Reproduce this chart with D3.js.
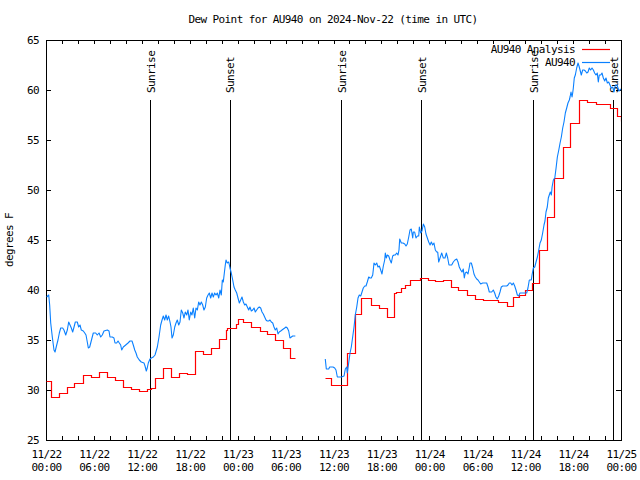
<!DOCTYPE html>
<html><head><meta charset="utf-8">
<script src="https://cdn.jsdelivr.net/npm/d3@7"></script>
<style>
body{margin:0;background:#fff}
text{font-family:"DejaVu Sans Mono",monospace;font-size:11px;letter-spacing:-0.6px;fill:#000}
</style>
</head><body>
<svg id="c" width="640" height="480"></svg>
<script>
const chartTitle = "Dew Point for AU940 on 2024-Nov-22 (time in UTC)";
const yAxisLabel = "degrees F";
const seriesNames = ["AU940 Analysis", "AU940"];
const startTime = "2024-11-22T00:00:00Z";
const endTime = "2024-11-25T00:00:00Z";
const yTicks = [25, 30, 35, 40, 45, 50, 55, 60, 65];

// sun events (hours after start)
const sunHours = [13.08, 22.98, 36.95, 46.98, 61.02, 71.03];
const sunLabels = ["Sunrise", "Sunset", "Sunrise", "Sunset", "Sunrise", "Sunset"];

// AU940 Analysis (red, step), hours after start
const redHours1 = [0, 0.67, 1.67, 2.67, 3.5, 4.67, 5.67, 6.67, 7.67, 8.67, 9.67, 10.67, 11.67, 12.67, 13.1, 13.67, 14.67, 15.67, 16.67, 17.67, 18.67, 19.67, 20.67, 21.67, 22.5, 22.7, 23.75, 24.08, 24.63, 25.67, 26.8, 27.64, 28.71, 29.71, 30.55, 31.2];
const redValues1 = [30.9, 29.3, 29.7, 30.3, 30.7, 31.5, 31.3, 31.8, 31.3, 31.0, 30.3, 30.1, 29.9, 30.1, 30.2, 31.2, 32.2, 31.3, 31.7, 31.6, 33.9, 33.6, 34.2, 35.1, 36.0, 36.2, 36.6, 37.1, 36.8, 36.3, 35.9, 35.6, 35.0, 34.2, 33.2, 33.2];
const redHours2 = [34.97, 35.72, 37.73, 38.66, 39.48, 40.73, 41.7, 42.7, 43.54, 43.86, 44.45, 44.95, 45.58, 46.83, 47.87, 48.71, 49.75, 50.68, 51.63, 52.75, 53.72, 54.76, 56.64, 57.7, 58.52, 59.23, 59.98, 60.82, 61.73, 62.7, 63.65, 64.7, 65.62, 66.78, 67.71, 68.87, 70.62, 71.54, 71.96, 72];
const redValues2 = [31.2, 30.5, 33.7, 37.6, 39.2, 38.5, 38.2, 37.3, 39.7, 39.8, 40.2, 40.5, 41.0, 41.2, 41.0, 40.9, 41.0, 40.3, 40.0, 39.5, 39.1, 39.0, 38.8, 38.4, 39.3, 39.5, 40.0, 40.7, 44.0, 47.3, 51.2, 54.3, 56.7, 59.0, 58.8, 58.6, 58.2, 57.4, 56.9, 56.9];

// AU940 observations (blue)
const blueHours1 = [0.09,0.34,0.46,0.59,0.79,1.0,1.13,1.34,1.5,1.67,1.84,2.09,2.25,2.47,2.67,2.84,3.01,3.17,3.34,3.51,3.67,3.92,4.09,4.26,4.42,4.67,4.85,5.01,5.17,5.3,5.47,5.6,5.76,5.92,6.22,6.42,6.64,6.85,7.05,7.26,7.68,7.89,8.01,8.3,8.51,8.64,8.85,9.02,9.18,9.35,9.48,9.68,9.98,10.27,10.52,10.77,10.93,11.11,11.27,11.43,11.68,11.93,12.27,12.4,12.56,12.68,12.81,13.02,13.19,13.44,13.65,13.94,14.15,14.36,14.53,14.69,14.86,15.03,15.19,15.36,15.53,15.65,15.78,15.94,16.12,16.28,16.44,16.62,16.78,16.94,17.12,17.28,17.44,17.62,17.78,17.94,18.12,18.28,18.44,18.62,18.78,18.95,19.12,19.28,19.45,19.62,19.78,19.95,20.12,20.29,20.45,20.62,20.79,20.95,21.12,21.29,21.45,21.63,21.79,21.95,22.08,22.2,22.33,22.45,22.54,22.7,22.88,23.04,23.2,23.38,23.54,23.7,23.88,24.04,24.21,24.38,24.54,24.71,24.88,25.04,25.21,25.38,25.54,25.71,25.88,26.05,26.21,26.38,26.55,26.71,26.88,27.05,27.21,27.38,27.55,27.71,27.88,28.05,28.21,28.39,28.55,28.71,28.89,29.05,29.21,29.39,29.55,29.72,29.89,30.05,30.22,30.39,30.55,30.72,30.89,31.05,31.22];
const blueValues1 = [39.3,39.5,38.5,36.7,35.3,34.0,33.8,34.5,35.0,35.7,36.2,36.2,36.0,35.5,36.0,36.8,36.5,36.2,35.8,36.3,36.8,36.8,36.3,36.5,36.0,35.9,35.7,35.5,34.8,34.2,34.3,34.7,35.2,35.7,35.7,35.5,35.7,35.3,35.5,35.9,36.0,35.9,35.3,35.3,35.2,34.7,34.7,34.9,34.7,34.5,34.0,34.3,34.5,34.7,34.9,34.9,34.5,34.0,33.7,33.3,33.0,32.8,32.7,32.4,31.9,32.2,32.7,33.1,33.2,33.3,33.5,34.3,35.3,36.5,37.0,37.4,37.0,37.5,37.0,37.4,36.8,36.3,35.2,35.5,36.3,36.7,37.0,36.5,36.8,38.0,37.7,37.2,37.8,37.5,38.0,37.0,37.8,37.5,38.2,37.2,38.2,38.0,38.8,38.5,38.8,38.5,38.0,38.3,39.2,39.5,39.7,39.2,39.7,39.3,39.7,39.5,39.7,39.2,40.0,39.5,41.0,40.8,41.7,42.5,43.0,42.7,42.8,42.2,41.7,41.0,40.3,40.0,39.7,39.2,38.7,39.0,39.3,38.8,38.5,38.6,38.3,38.0,38.3,37.9,38.0,38.2,37.8,38.0,38.2,38.3,38.2,37.8,37.6,37.3,37.0,36.9,36.9,37.0,36.8,36.7,36.3,36.0,36.2,35.6,35.8,35.9,36.0,36.1,36.2,36.3,36.2,35.9,35.2,35.3,35.4,35.4,35.4];
const blueHours2 = [34.97,35.1,35.4,35.52,35.94,36.15,36.31,36.48,36.78,36.98,37.32,37.48,37.65,37.73,37.9,38.07,38.23,38.4,38.57,38.73,38.91,39.07,39.23,39.41,39.57,39.73,39.91,40.07,40.23,40.41,40.57,40.73,40.91,40.98,41.07,41.23,41.41,41.57,41.74,41.91,42.07,42.24,42.41,42.49,42.61,42.74,42.91,43.08,43.24,43.41,43.58,43.74,43.91,44.08,44.2,44.29,44.49,44.7,44.92,45.08,45.24,45.42,45.58,45.74,45.92,45.99,46.16,46.33,46.5,46.67,46.75,46.92,47.08,47.25,47.42,47.58,47.75,47.92,48.09,48.25,48.42,48.58,48.75,48.92,49.05,49.17,49.34,49.55,49.75,49.96,50.13,50.3,50.46,50.8,51.0,51.21,51.43,51.59,51.75,51.93,52.09,52.25,52.38,52.5,52.68,52.84,53.01,53.09,53.26,53.43,53.59,53.76,53.93,54.09,54.26,54.43,54.68,54.93,55.18,55.35,55.51,55.81,56.01,56.18,56.34,56.51,56.69,56.85,57.01,57.19,57.44,57.69,57.85,58.01,58.19,58.35,58.52,58.69,58.85,59.02,59.19,59.35,59.77,60.19,60.35,60.52,60.77,60.86,61.02,61.2,61.36,61.53,61.7,61.86,62.02,62.19,62.36,62.48,62.61,62.77,62.9,63.02,63.15,63.28,63.37,63.53,63.71,63.87,64.03,64.21,64.37,64.53,64.7,64.86,65.03,65.2,65.36,65.53,65.62,65.74,65.87,65.95,66.03,66.15,66.28,66.45,66.62,66.74,66.87,67.03,67.2,67.37,67.54,67.71,67.87,68.03,68.2,68.37,68.54,68.7,68.87,69.03,69.16,69.28,69.46,69.62,69.79,69.96,70.12,70.29,70.46,70.62,70.78,70.96,71.12,71.29,71.5,71.75,72.0];
const blueValues2 = [33.1,32.1,32.1,32.3,32.3,32.2,32.0,31.3,31.3,31.3,31.4,32.1,32.3,31.7,32.7,33.7,34.3,35.3,36.3,37.5,38.3,39.2,39.5,39.4,39.8,40.2,40.4,40.4,40.8,41.3,41.2,41.2,41.5,42.0,42.7,42.5,42.7,42.3,42.4,42.0,41.6,42.4,43.0,43.7,43.2,43.5,43.4,43.0,42.7,43.4,43.5,43.5,43.7,43.5,44.0,45.1,44.7,44.7,44.6,44.4,44.6,45.3,46.0,46.1,45.2,45.8,45.8,45.2,45.4,45.4,46.3,45.7,45.9,46.6,46.3,45.6,45.2,44.8,44.5,44.8,44.5,44.7,44.0,43.8,43.8,42.8,43.2,43.7,43.2,43.2,43.7,43.2,42.5,42.5,42.8,43.0,43.1,42.8,42.3,42.0,41.8,42.1,41.2,41.7,41.8,41.6,42.3,42.7,42.7,42.2,41.6,41.3,41.1,41.0,40.8,40.6,40.7,40.7,40.7,40.3,39.8,39.8,40.0,39.7,39.3,39.1,39.4,39.8,40.3,40.4,40.4,40.4,40.5,40.7,40.7,40.5,40.7,40.4,40.0,39.5,39.4,39.7,39.7,39.7,40.2,41.0,41.0,41.5,42.2,42.3,42.8,43.3,44.0,44.7,45.0,45.7,46.5,46.9,47.8,48.3,49.2,49.5,49.8,49.5,50.3,51.0,51.2,52.2,53.3,54.0,54.7,55.3,56.2,56.8,57.7,58.2,58.7,59.0,59.3,59.8,59.3,59.7,60.2,61.2,61.5,62.2,62.7,62.4,62.0,61.5,62.0,62.0,61.9,61.7,61.8,62.2,62.0,62.2,62.0,61.7,61.5,61.7,60.8,61.5,61.5,61.7,61.2,60.9,61.2,60.7,60.8,60.5,60.2,60.3,59.8,60.5,60.5,59.9,60.1];

const redColor = "#ff0000", blueColor = "#0a80ff";

const svg = d3.select("#c");
const t0 = new Date(startTime), t1 = new Date(endTime);
const toDate = h => new Date(t0.getTime() + h * 3600e3);
const L = 46, R = 621, T = 40, B = 440;
const x = d3.scaleUtc().domain([t0, t1]).range([L, R]);
const y = d3.scaleLinear().domain([25, 65]).range([B, T]);

svg.append("defs").append("clipPath").attr("id", "clip")
  .append("rect").attr("x", L).attr("y", T).attr("width", R - L).attr("height", B - T);

// title
svg.append("text").attr("x", 333).attr("y", 23).attr("text-anchor", "middle").text(chartTitle);
// y label
svg.append("text").attr("transform", "translate(13,240) rotate(-90)").attr("text-anchor", "middle").text(yAxisLabel);

// axes
const tick2h = d3.utcHour.every(2).range(t0, new Date(t1.getTime() + 1));
const axB = svg.append("g").attr("transform", `translate(0,${B})`)
  .call(d3.axisBottom(x).tickValues(tick2h).tickSize(-4).tickSizeOuter(0).tickFormat(""));
const axT = svg.append("g").attr("transform", `translate(0,${T})`)
  .call(d3.axisTop(x).tickValues(tick2h).tickSize(-4).tickSizeOuter(0).tickFormat(""));
const axLf = svg.append("g").attr("transform", `translate(${L},0)`)
  .call(d3.axisLeft(y).tickValues(yTicks).tickSize(-5).tickSizeOuter(0).tickPadding(7).tickFormat(d3.format("d")));
const axRt = svg.append("g").attr("transform", `translate(${R},0)`)
  .call(d3.axisRight(y).tickValues(yTicks).tickSize(-5).tickSizeOuter(0).tickFormat(""));
[axB, axT, axLf, axRt].forEach(g => {
  g.select(".domain").remove();
  g.selectAll("line").attr("stroke", "#000").attr("shape-rendering", "crispEdges");
  g.selectAll("text").attr("font-family", null).attr("font-size", null);
});
axLf.selectAll("text").attr("fill", "#000");

// x tick labels (two lines)
const tick6h = d3.utcHour.every(6).range(t0, new Date(t1.getTime() + 1));
const fmtD = d3.utcFormat("%m/%d"), fmtT = d3.utcFormat("%H:%M");
const xl = svg.append("g").selectAll("text").data(tick6h).join("text")
  .attr("text-anchor", "middle").attr("x", d => x(d) + 0.5).attr("y", 458);
xl.append("tspan").attr("x", d => x(d) + 0.5).attr("y", 458).text(fmtD);
xl.append("tspan").attr("x", d => x(d) + 0.5).attr("y", 471).text(fmtT);

// frame
svg.append("rect").attr("x", L + 0.5).attr("y", T + 0.5).attr("width", R - L).attr("height", B - T)
  .attr("fill", "none").attr("stroke", "#000").attr("shape-rendering", "crispEdges");

// sun events
const sun = svg.append("g").selectAll("g").data(sunHours.map((h, i) => ({ h, label: sunLabels[i] }))).join("g");
sun.append("line").attr("x1", d => Math.round(x(toDate(d.h))) + 0.5).attr("x2", d => Math.round(x(toDate(d.h))) + 0.5)
  .attr("y1", 100).attr("y2", B).attr("stroke", "#000").attr("shape-rendering", "crispEdges");
sun.append("text").attr("transform", d => `translate(${x(toDate(d.h)) + 1},93) rotate(-90)`)
  .attr("dy", "0.35em").attr("text-anchor", "start").text(d => d.label);

// series
const plot = svg.append("g").attr("clip-path", "url(#clip)");
const mk = (hs, vs) => hs.map((h, i) => ({ t: toDate(h), v: vs[i] }));
const stepLine = d3.line().x(d => Math.round(x(d.t)) + 0.5).y(d => Math.round(y(d.v)) + 0.5).curve(d3.curveStepAfter);
const line = d3.line().x(d => x(d.t)).y(d => y(d.v));
[mk(redHours1, redValues1), mk(redHours2, redValues2)].forEach(data =>
  plot.append("path").attr("d", stepLine(data)).attr("fill", "none").attr("stroke", redColor)
    .attr("stroke-width", 1.2));
[mk(blueHours1, blueValues1), mk(blueHours2, blueValues2)].forEach(data =>
  plot.append("path").attr("d", line(data)).attr("fill", "none").attr("stroke", blueColor)
    .attr("stroke-width", 1.1).attr("stroke-linejoin", "round"));

// legend
const legY = [49, 62], legCol = [redColor, blueColor];
const leg = svg.append("g").selectAll("g").data(seriesNames).join("g");
leg.append("text").attr("x", 575).attr("y", (d, i) => legY[i]).attr("dy", "0.35em").attr("text-anchor", "end").text(d => d);
leg.append("line").attr("x1", 582).attr("x2", 610).attr("y1", (d, i) => legY[i] + 0.5).attr("y2", (d, i) => legY[i] + 0.5)
  .attr("stroke", (d, i) => legCol[i]).attr("stroke-width", 1.2);
</script>
</body></html>
